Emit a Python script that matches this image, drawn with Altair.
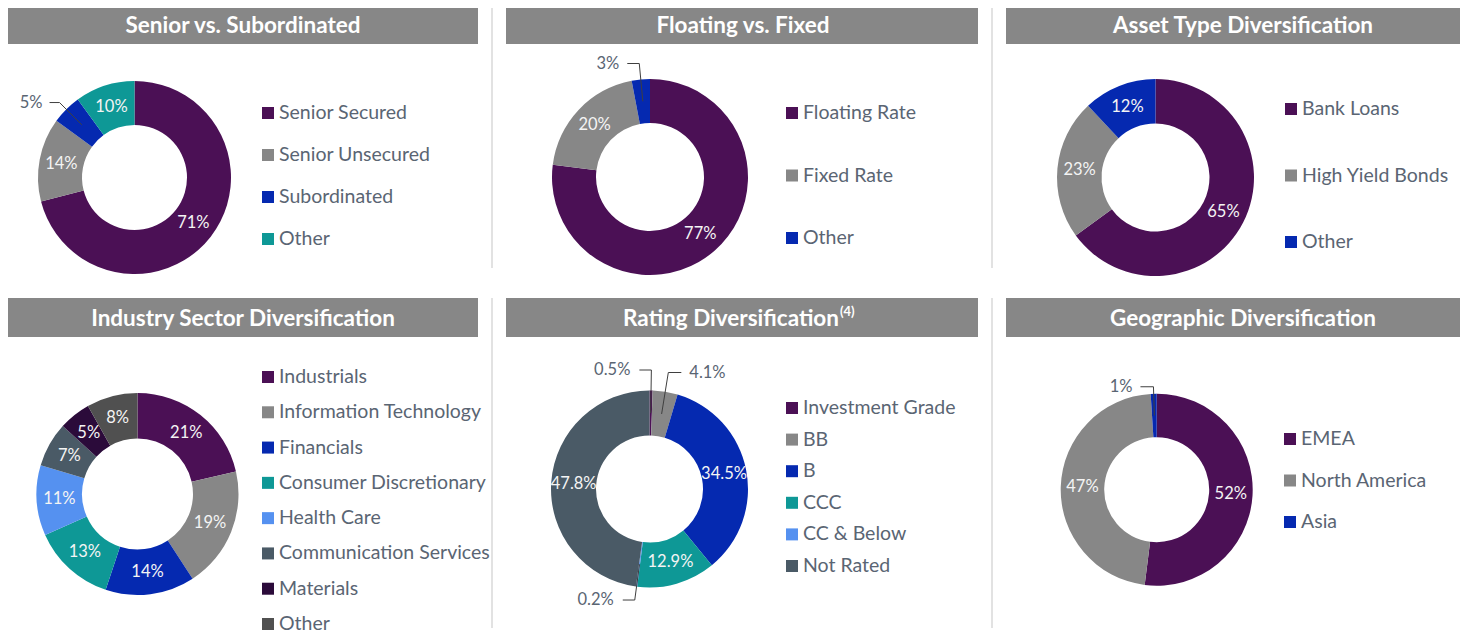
import math
import altair as alt
import pandas as pd

OFF = 8  # page margin: layout numbers below are page pixels
FONT = "Lato"

# ---------------- data ----------------
senior_cats = ["Senior Secured", "Senior Unsecured", "Subordinated", "Other"]
senior_vals = [71, 14, 5, 10]

float_cats = ["Floating Rate", "Fixed Rate", "Other"]
float_vals = [77, 20, 3]

asset_cats = ["Bank Loans", "High Yield Bonds", "Other"]
asset_vals = [65, 23, 12]

industry_cats = ["Industrials", "Information Technology", "Financials",
                 "Consumer Discretionary", "Health Care",
                 "Communication Services", "Materials", "Other"]
industry_vals = [21, 19, 14, 13, 11, 7, 5, 8]

rating_cats = ["Investment Grade", "BB", "B", "CCC", "CC & Below", "Not Rated"]
rating_vals = [0.5, 4.1, 34.5, 12.9, 0.2, 47.8]

geo_cats = ["EMEA", "North America", "Asia"]
geo_vals = [52, 47, 1]

titles = ["Senior vs. Subordinated", "Floating vs. Fixed",
          "Asset Type Diversification", "Industry Sector Diversification",
          "Rating Diversification", "Geographic Diversification"]

# ---------------- styles ----------------
PURPLE = "#4B1055"
GREY = "#878787"
BLUE = "#0529B0"
TEAL = "#0E9896"
LBLUE = "#5591F0"
SLATE = "#4A5A66"
DPURPLE = "#2B0B3A"
DGREY = "#505050"
TXT = "#5A6573"
BAR = "#878787"
SEP = "#E2E2E2"

panels = [
    dict(title=titles[0], cats=senior_cats, vals=senior_vals,
         colors=[PURPLE, GREY, BLUE, TEAL], fmt="{:.0f}%",
         bar=(6, 478, 5, 44), tx=243, center=(134.5, 177.5), R=96.5, r=52.5,
         leg=(268, 113, 239), outside={"Subordinated": (106, -10, 7)}),
    dict(title=titles[1], cats=float_cats, vals=float_vals,
         colors=[PURPLE, GREY, BLUE], fmt="{:.0f}%",
         bar=(506, 978, 5, 44), tx=743, center=(650, 177), R=98, r=54,
         leg=(792, 113, 238), outside={"Other": (114, -12, 8)}),
    dict(title=titles[2], cats=asset_cats, vals=asset_vals,
         colors=[PURPLE, GREY, BLUE], fmt="{:.0f}%",
         bar=(1006, 1470, 5, 44), tx=1243, center=(1155.5, 177.5), R=98.5, r=54,
         leg=(1291, 109, 242), outside={}),
    dict(title=titles[3], cats=industry_cats, vals=industry_vals,
         colors=[PURPLE, GREY, BLUE, TEAL, LBLUE, SLATE, DPURPLE, DGREY], fmt="{:.0f}%",
         bar=(6, 478, 298, 337), tx=243, center=(137.5, 494), R=101, r=55.5,
         leg=(268, 377, 624), outside={}),
    dict(title=titles[4], cats=rating_cats, vals=rating_vals,
         colors=[PURPLE, GREY, BLUE, TEAL, LBLUE, SLATE], fmt="{:.1f}%",
         bar=(506, 978, 298, 337), tx=743, center=(649.5, 489), R=98.5, r=53.5,
         leg=(792, 408, 566), sup="(4)",
         outside={"Investment Grade": (119, -12, 9), "BB": (118, 13, 8),
                  "CC & Below": (112, -12, 9)}),
    dict(title=titles[5], cats=geo_cats, vals=geo_vals,
         colors=[PURPLE, GREY, BLUE], fmt="{:.0f}%",
         bar=(1006, 1470, 298, 337), tx=1243, center=(1156.7, 489.7), R=96, r=52.5,
         leg=(1290, 439, 522), outside={"Asia": (103, -13, 8)}),
]

layers = []

# title bars and titles
bars = pd.DataFrame([dict(x=p["bar"][0] - OFF, x2=p["bar"][1] - OFF,
                          y=p["bar"][2] - OFF, y2=p["bar"][3] - OFF) for p in panels])
layers.append(alt.Chart(bars).mark_rect(color=BAR).encode(
    x=alt.X("x:Q", scale=None, axis=None), x2="x2:Q",
    y=alt.Y("y:Q", scale=None, axis=None), y2="y2:Q"))

ttl_rows, sup_rows = [], []
for p in panels:
    ymid = (p["bar"][2] + p["bar"][3]) / 2 - OFF + 1
    if p.get("sup"):
        ttl_rows.append(dict(t=p["title"], x=p["tx"] + 96 - OFF, y=ymid, a="right"))
        sup_rows.append(dict(t=p["sup"], x=p["tx"] + 97 - OFF, y=ymid - 7))
    else:
        ttl_rows.append(dict(t=p["title"], x=p["tx"] - OFF, y=ymid, a="center"))
ttl = pd.DataFrame(ttl_rows)
for a in ["center", "right"]:
    sub = ttl[ttl.a == a]
    layers.append(alt.Chart(sub).mark_text(
        font=FONT, fontSize=22.5, fontWeight="bold", color="white",
        align=a, baseline="middle").encode(
        x=alt.X("x:Q", scale=None, axis=None), y=alt.Y("y:Q", scale=None, axis=None),
        text="t:N"))
layers.append(alt.Chart(pd.DataFrame(sup_rows)).mark_text(
    font=FONT, fontSize=13, fontWeight="bold", color="white",
    align="left", baseline="middle").encode(
    x=alt.X("x:Q", scale=None, axis=None), y=alt.Y("y:Q", scale=None, axis=None),
    text="t:N"))

# separators
seps = pd.DataFrame([dict(x=492 - OFF, y=5 - OFF, y2=268 - OFF),
                     dict(x=492 - OFF, y=298 - OFF, y2=628 - OFF),
                     dict(x=992 - OFF, y=5 - OFF, y2=268 - OFF),
                     dict(x=992 - OFF, y=298 - OFF, y2=628 - OFF)])
layers.append(alt.Chart(seps).mark_rule(color=SEP, strokeWidth=2).encode(
    x=alt.X("x:Q", scale=None, axis=None), y=alt.Y("y:Q", scale=None, axis=None),
    y2="y2:Q"))

lead_rows, out_rows = [], []
for p in panels:
    cats, vals = p["cats"], p["vals"]
    total = sum(vals)
    cx, cy = p["center"][0] - OFF, p["center"][1] - OFF
    R, r = p["R"], p["r"]
    df = pd.DataFrame({"cat": cats, "val": vals, "idx": list(range(len(cats)))})
    df["lab"] = [p["fmt"].format(v) for v in vals]
    df["lab_in"] = [("" if c in p["outside"] else l) for c, l in zip(cats, df["lab"])]
    cscale = alt.Scale(domain=cats, range=p["colors"])

    layers.append(alt.Chart(df).mark_arc(innerRadius=r, outerRadius=R).encode(
        theta=alt.Theta("val:Q", stack=True),
        color=alt.Color("cat:N", scale=cscale, legend=None),
        order=alt.Order("idx:Q"),
        x=alt.value(cx), y=alt.value(cy)))

    layers.append(alt.Chart(df).mark_text(
        radius=(R + r) / 2, font=FONT, fontSize=16.5, color="#F4F4F4").encode(
        theta=alt.Theta("val:Q", stack=True),
        detail="cat:N",
        order=alt.Order("idx:Q"),
        text="lab_in:N",
        x=alt.value(cx), y=alt.value(cy)))

    # outside labels with leader lines, positioned from the slice angles
    cum = 0
    for c, v, l in zip(cats, vals, df["lab"]):
        if c in p["outside"]:
            re_, h, gap = p["outside"][c]
            ang = (cum + v / 2) / total * 2 * math.pi
            ra = (R + r) / 2
            ax, ay = cx + ra * math.sin(ang), cy - ra * math.cos(ang)
            ex, ey = cx + re_ * math.sin(ang), cy - re_ * math.cos(ang)
            lead_rows.append(dict(x=ax, y=ay, x2=ex, y2=ey))
            lead_rows.append(dict(x=ex, y=ey, x2=ex + h, y2=ey))
            sgn = 1 if h > 0 else -1
            out_rows.append(dict(t=l, x=ex + h + sgn * gap, y=ey,
                                 a="left" if h > 0 else "right"))
        cum += v

    # legend
    lx, y0, y1 = p["leg"]
    yscale = alt.Scale(type="point", domain=cats, range=[y0 - OFF, y1 - OFF], padding=0)
    layers.append(alt.Chart(df).mark_square(size=144, opacity=1).encode(
        y=alt.Y("cat:N", scale=yscale, axis=None),
        x=alt.value(lx - OFF),
        color=alt.Color("cat:N", scale=cscale, legend=None)))
    layers.append(alt.Chart(df).mark_text(
        font=FONT, fontSize=19.5, color=TXT, align="left", baseline="middle").encode(
        y=alt.Y("cat:N", scale=yscale, axis=None),
        x=alt.value(lx + 11 - OFF),
        text="cat:N"))

layers.append(alt.Chart(pd.DataFrame(lead_rows)).mark_rule(
    color="#3F3F3F", strokeWidth=1).encode(
    x=alt.X("x:Q", scale=None, axis=None), y=alt.Y("y:Q", scale=None, axis=None),
    x2="x2:Q", y2="y2:Q"))
outdf = pd.DataFrame(out_rows)
for a in ["left", "right"]:
    layers.append(alt.Chart(outdf[outdf.a == a]).mark_text(
        font=FONT, fontSize=16.5, color=TXT, align=a, baseline="middle").encode(
        x=alt.X("x:Q", scale=None, axis=None), y=alt.Y("y:Q", scale=None, axis=None),
        text="t:N"))

chart = alt.layer(*layers).resolve_scale(
    theta="independent", color="independent", y="independent", x="independent"
).properties(
    width=1452, height=626, padding=0, autosize=alt.AutoSizeParams(type="none")
).configure_view(stroke=None)

chart.save("out.html", embed_options={"renderer": "svg", "actions": False})
